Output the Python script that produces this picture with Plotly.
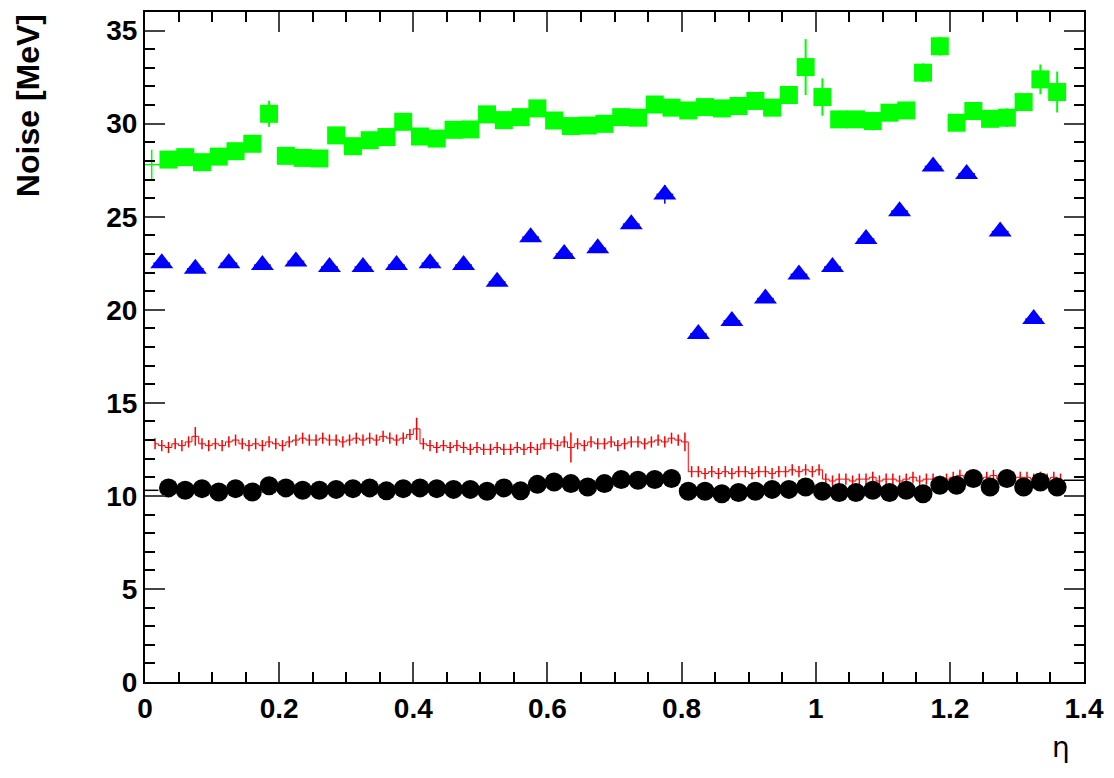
import numpy as np
import plotly.graph_objs as go

# eta grid for the 0.025-wide cells
eta_cells = [round(0.035 + 0.025 * i, 4) for i in range(54)]

# green squares
green_noise = [28.07, 28.2, 27.93, 28.23, 28.52, 28.92, 30.53, 28.27, 28.16, 28.13,
               29.37, 28.79, 29.11, 29.28, 30.1, 29.31, 29.2, 29.67, 29.69, 30.5,
               30.19, 30.35, 30.82, 30.17, 29.87, 29.9, 29.99, 30.35, 30.32, 31.03,
               30.86, 30.71, 30.89, 30.82, 30.95, 31.22, 30.86, 31.54, 33.04, 31.43,
               30.23, 30.23, 30.14, 30.59, 30.71, 32.74, 34.16, 30.05, 30.68, 30.26,
               30.32, 31.16, 32.38, 31.7]
green_err = [0.3, 0.3, 0.3, 0.3, 0.3, 0.4, 0.7, 0.2, 0.2, 0.2,
             0.4, 0.3, 0.3, 0.3, 0.4, 0.3, 0.3, 0.3, 0.3, 0.3,
             0.4, 0.3, 0.4, 0.3, 0.4, 0.3, 0.3, 0.3, 0.3, 0.3,
             0.3, 0.3, 0.3, 0.3, 0.3, 0.4, 0.3, 0.3, 1.5, 1.0,
             0.4, 0.3, 0.5, 0.3, 0.4, 0.5, 0.5, 0.3, 0.3, 0.4,
             0.5, 0.4, 0.8, 1.1]
green_first_eta = [0.01]
green_first_val = [27.8]

# black circles
black_noise = [10.43, 10.3, 10.39, 10.21, 10.39, 10.21, 10.54, 10.43, 10.3, 10.3,
               10.35, 10.39, 10.43, 10.27, 10.39, 10.43, 10.39, 10.35, 10.35, 10.25,
               10.43, 10.27, 10.62, 10.75, 10.66, 10.48, 10.66, 10.88, 10.84, 10.88,
               10.93, 10.25, 10.25, 10.12, 10.18, 10.25, 10.35, 10.35, 10.48, 10.25,
               10.18, 10.18, 10.3, 10.18, 10.3, 10.12, 10.57, 10.57, 10.93, 10.48,
               10.93, 10.48, 10.75, 10.48]

# blue triangles (0.05 towers)
blue_eta = [round(0.025 + 0.05 * i, 3) for i in range(27)]
blue_noise = [22.5, 22.2, 22.5, 22.4, 22.6, 22.3, 22.3, 22.4, 22.5, 22.4,
              21.5, 23.9, 23.0, 23.3, 24.6, 26.2, 18.7, 19.4, 20.6, 21.9,
              22.3, 23.8, 25.3, 27.7, 27.3, 24.2, 19.5]
blue_err = [0.1, 0.1, 0.1, 0.1, 0.1, 0.1, 0.1, 0.1, 0.3, 0.1,
            0.1, 0.1, 0.1, 0.1, 0.1, 0.5, 0.1, 0.1, 0.1, 0.1,
            0.1, 0.1, 0.1, 0.1, 0.1, 0.1, 0.1]

# red fine-binned histogram (0.01 bins)
red_eta = [round(0.015 + 0.01 * i, 3) for i in range(136)]
red_noise = [12.8, 12.7, 12.6, 12.8, 12.7, 12.9, 13.2, 12.8, 12.7, 12.8,
             12.7, 12.9, 13.0, 12.8, 12.7, 12.8, 12.7, 12.9, 12.8, 12.7,
             12.9, 13.0, 13.1, 13.0, 13.0, 13.1, 13.0, 13.0, 12.9, 13.0,
             13.1, 13.0, 13.1, 13.0, 13.2, 13.1, 13.0, 13.1, 13.3, 13.6,
             12.8, 12.7, 12.6, 12.7, 12.6, 12.7, 12.6, 12.5, 12.6, 12.5,
             12.5, 12.6, 12.5, 12.5, 12.6, 12.5, 12.6, 12.5, 12.8, 12.8,
             12.7, 12.9, 12.6, 12.8, 12.7, 12.9, 12.8, 12.8, 12.9, 12.7,
             12.8, 12.9, 12.9, 12.8, 12.9, 13.0, 12.9, 13.1, 13.0, 12.9,
             11.3, 11.3, 11.2, 11.3, 11.2, 11.3, 11.2, 11.3, 11.3, 11.2,
             11.3, 11.3, 11.2, 11.3, 11.3, 11.4, 11.3, 11.4, 11.3, 11.4,
             10.9, 10.8, 10.9, 10.9, 10.8, 10.9, 10.9, 11.0, 10.8, 10.9,
             10.9, 10.8, 10.9, 11.0, 10.8, 10.9, 10.9, 10.8, 10.9, 11.0,
             11.1, 11.0, 11.0, 10.9, 11.0, 11.1, 10.9, 11.1, 11.0, 11.0,
             11.0, 10.9, 11.0, 10.9, 11.0, 10.9]
red_err = [0.3] * 136
red_err[6] = 0.5
red_err[39] = 0.6
red_err[62] = 0.8
red_err[79] = 0.5

# black reference line segments at the edges
line_eta = [0.0, 0.02, None, 1.37, 1.4]
line_val = [10.3, 10.3, None, 10.84, 10.84]

fig = go.Figure()

fig.add_trace(go.Scatter(x=line_eta, y=line_val, mode='lines',
                         line=dict(color='black', width=1.5), showlegend=False))

fig.add_trace(go.Scatter(
    x=red_eta, y=red_noise, mode='lines', line=dict(color='red', width=1, shape='hvh'),
    error_y=dict(type='data', array=red_err, color='red', thickness=1.5, width=0),
    showlegend=False))

fig.add_trace(go.Scatter(
    x=green_first_eta, y=green_first_val, mode='markers',
    marker=dict(color='#00ff00', size=1),
    error_x=dict(type='constant', value=0.0125, color='#00ff00', thickness=1.5, width=0),
    error_y=dict(type='constant', value=0.8, color='#00ff00', thickness=1.5, width=0),
    showlegend=False))

fig.add_trace(go.Scatter(
    x=eta_cells, y=green_noise, mode='markers',
    marker=dict(symbol='square', color='#00ff00', size=18),
    error_y=dict(type='data', array=green_err, color='#00ff00', thickness=2, width=0),
    showlegend=False))

fig.add_trace(go.Scatter(
    x=blue_eta, y=blue_noise, mode='markers',
    marker=dict(symbol='triangle-up', color='blue', size=20),
    error_x=dict(type='constant', value=0.0125, color='blue', thickness=1.5, width=0),
    error_y=dict(type='data', array=blue_err, color='blue', thickness=1.5, width=0),
    showlegend=False))

fig.add_trace(go.Scatter(
    x=eta_cells, y=black_noise, mode='markers',
    marker=dict(symbol='circle', color='black', size=19),
    showlegend=False))

tick_font = dict(family='Liberation Sans', size=28, color='black', weight='bold')
fig.update_layout(
    width=1114, height=778,
    margin=dict(l=145, r=29, t=10, b=96),
    plot_bgcolor='white', paper_bgcolor='white',
    font=dict(family='Liberation Sans', color='black'),
    xaxis=dict(range=[0, 1.4], dtick=0.2, tickformat='~g', ticks='inside', ticklen=20,
               tickwidth=1.5, mirror='ticks', showline=True, linecolor='black', linewidth=2,
               showgrid=False, zeroline=False, tickfont=tick_font,
               minor=dict(dtick=0.05, ticks='inside', ticklen=10, tickcolor='black')),
    yaxis=dict(range=[0, 36], dtick=5, ticks='inside', ticklen=20, tickwidth=1.5,
               mirror='ticks', showline=True, linecolor='black', linewidth=2,
               showgrid=False, zeroline=False, tickfont=tick_font,
               minor=dict(dtick=1, ticks='inside', ticklen=10, tickcolor='black')),
    annotations=[
        dict(text='Noise [MeV]', xref='paper', yref='paper', x=-0.125, y=1.0,
             xanchor='center', yanchor='top', textangle=-90, showarrow=False,
             font=dict(family='Liberation Sans', size=32, color='black', weight='bold')),
        dict(text='η', xref='paper', yref='paper', x=0.987, y=-0.07,
             xanchor='right', yanchor='top', showarrow=False,
             font=dict(family='DejaVu Sans', size=28, color='black')),
    ],
)

fig.write_html("out.html", config={'displayModeBar': False})

# drop the default page margin so the figure fills the window without scrollbars
with open("out.html", encoding="utf-8") as f:
    page = f.read()
page = page.replace("<head>", "<head><style>body{margin:0;overflow:hidden}</style>", 1)
with open("out.html", "w", encoding="utf-8") as f:
    f.write(page)
